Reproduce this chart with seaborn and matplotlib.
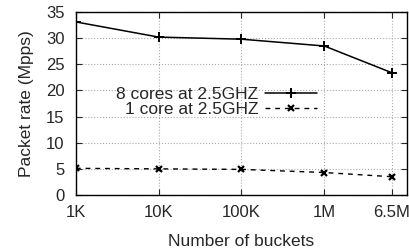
import seaborn as sns
import matplotlib.pyplot as plt
import pandas as pd
import numpy as np

# --- data ---
buckets = [1e3, 1e4, 1e5, 1e6, 6.5e6]
bucket_labels = ['1K', '10K', '100K', '1M', '6.5M']
rate_8cores = [33.1, 30.2, 29.8, 28.5, 23.4]
rate_1core = [5.1, 5.0, 4.9, 4.3, 3.5]
series_names = ['8 cores at 2.5GHZ', '1 core at 2.5GHZ']

df8 = pd.DataFrame({'buckets': buckets, 'rate': rate_8cores})
df1 = pd.DataFrame({'buckets': buckets, 'rate': rate_1core})

sns.set_style('ticks')
plt.rcParams['font.family'] = ['Liberation Sans', 'DejaVu Sans']
plt.rcParams['font.size'] = 12

fig, ax = plt.subplots(figsize=(4.1, 2.5), dpi=100)

# seaborn defaults the marker edge to white, so set it explicitly
sns.lineplot(data=df8, x='buckets', y='rate', color='black', marker='+',
             linestyle='-', linewidth=1.1, markersize=7, markeredgewidth=1.4,
             markeredgecolor='black', label=series_names[0], ax=ax)
sns.lineplot(data=df1, x='buckets', y='rate', color='black', marker='x',
             linestyle=(0, (3.5, 3.5)), linewidth=1.0, markersize=5,
             markeredgewidth=1.6, markeredgecolor='black',
             label=series_names[1], ax=ax)

ax.set_xscale('log')
ax.set_xlim(1e3, 1e7)
ax.set_ylim(0, 35)
ax.set_xticks(buckets)
ax.set_xticklabels(bucket_labels)
ax.minorticks_off()
ax.set_yticks(np.arange(0, 36, 5))
ax.tick_params(direction='in', top=True, right=True, length=4, width=0.8,
               labelsize=12)
ax.tick_params(axis='x', pad=7)
ax.tick_params(axis='y', pad=8)
ax.grid(True, linestyle=':', color='#aaaaaa', linewidth=0.8)
for s in ax.spines.values():
    s.set_linewidth(1.0)
    s.set_color('black')

ax.set_xlabel('Number of buckets', fontsize=12.5, labelpad=10)
ax.set_ylabel('Packet rate (Mpps)', fontsize=12.5, labelpad=9)

leg = ax.legend(loc='center left', bbox_to_anchor=(0.1, 0.51), frameon=False,
                markerfirst=False, handlelength=3.0, labelspacing=0.0,
                borderaxespad=0, handletextpad=0.4, fontsize=12.5)
for t in leg.get_texts():
    t.set_ha('right')

fig.subplots_adjust(left=0.185, right=0.993, top=0.952, bottom=0.22)
plt.savefig('out.png')
